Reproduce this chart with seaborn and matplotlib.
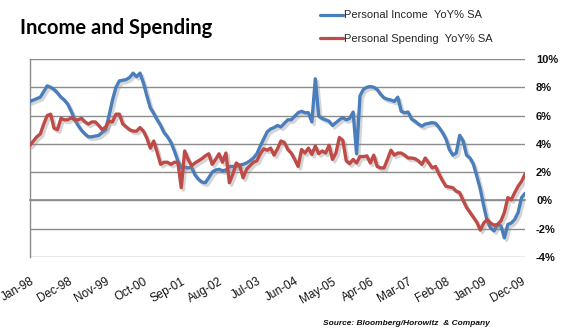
import numpy as np
import pandas as pd
import matplotlib
matplotlib.use("Agg")
import matplotlib.pyplot as plt
import matplotlib.patheffects as pe
from matplotlib.lines import Line2D
import seaborn as sns

# ---- data (monthly YoY %, Jan-98 .. Jan-10) ----
income = [7.0, 7.1, 7.2, 7.3, 7.7, 8.1, 8.0, 7.85, 7.6, 7.3,
          7.1, 6.8, 6.3, 5.7, 5.3, 4.95, 4.7, 4.5, 4.5, 4.55,
          4.6, 4.8, 5.0, 6.0, 7.1, 8.0, 8.45, 8.5, 8.55, 8.7,
          9.0, 8.75, 9.0, 8.3, 7.4, 6.55, 6.15, 5.7, 5.3, 4.8,
          4.5, 4.1, 3.5, 2.8, 2.3, 2.35, 2.3, 2.35, 1.8, 1.5,
          1.3, 1.25, 1.6, 2.0, 2.15, 2.2, 2.1, 2.15, 2.4, 2.4,
          2.4, 2.5, 2.55, 2.65, 2.8, 3.0, 3.3, 3.85, 4.35, 4.85,
          5.05, 5.15, 5.3, 5.2, 5.45, 5.7, 5.7, 5.95, 6.2, 6.3,
          6.2, 6.2, 5.55, 8.6, 5.95, 5.8, 5.7, 5.6, 5.3, 5.5,
          5.7, 5.85, 5.7, 5.8, 6.25, 3.3, 7.4, 7.85, 8.0, 8.05,
          8.0, 7.85, 7.5, 7.25, 7.15, 7.1, 7.0, 7.3, 6.3, 6.2,
          6.25, 5.75, 5.6, 5.4, 5.25, 5.4, 5.45, 5.5, 5.45, 5.15,
          4.8, 4.35, 3.6, 3.2, 3.35, 4.6, 4.2, 3.2, 3.0, 2.55,
          1.7, 0.8, -0.4, -1.45, -1.95, -2.15, -1.7, -1.8, -2.65, -1.7,
          -1.6, -1.35, -0.85, 0.2, 0.5]

spending = [3.9, 4.2, 4.5, 4.7, 5.4, 6.0, 6.1, 5.1, 5.0, 5.8,
            5.7, 5.7, 5.85, 5.7, 5.7, 5.8, 5.55, 5.4, 5.55, 5.55,
            5.3, 5.0, 5.2, 5.6, 5.55, 6.1, 6.1, 5.4, 5.2, 5.0,
            4.9, 4.9, 5.15, 4.9, 4.4, 3.7, 4.2, 3.4, 2.55, 2.7,
            2.7, 2.55, 2.7, 2.7, 0.9, 3.5, 2.9, 2.45, 2.65, 2.8,
            2.95, 3.15, 3.3, 2.55, 2.9, 3.3, 2.7, 3.35, 1.25, 1.85,
            2.65, 2.45, 1.6, 2.2, 2.45, 2.7, 2.8, 3.3, 3.65, 3.55,
            3.7, 3.2, 3.65, 4.2, 4.1, 3.6, 3.35, 2.9, 2.4, 3.6,
            3.35, 3.7, 3.25, 3.85, 3.3, 3.5, 3.35, 3.9, 2.9, 3.35,
            4.45, 4.25, 2.8, 2.6, 2.9, 2.65, 3.1, 3.1, 3.15, 2.65,
            3.2, 2.4, 2.3, 2.3, 2.9, 3.55, 3.2, 3.35, 3.35, 3.2,
            3.0, 3.0, 2.95, 2.8, 2.55, 3.0, 2.65, 2.3, 2.4, 1.85,
            1.4, 1.0, 0.95, 0.9, 0.65, 0.55, 0.0, -0.5, -0.85, -1.2,
            -1.55, -2.1, -1.6, -1.35, -1.6, -1.75, -1.7, -1.45, -0.85, 0.2,
            0.05, 0.55, 1.0, 1.35, 1.85]

tick_labels = ['Jan-98', 'Dec-98', 'Nov-99', 'Oct-00', 'Sep-01', 'Aug-02', 'Jul-03',
               'Jun-04', 'May-05', 'Apr-06', 'Mar-07', 'Feb-08', 'Jan-09', 'Dec-09']
y_ticks = [-4, -2, 0, 2, 4, 6, 8, 10]
series_names = ['Personal Income  YoY% SA', 'Personal Spending  YoY% SA']
colors = ['#4A7EBB', '#BE4B48']

month = np.arange(len(income))
df = pd.DataFrame({
    'month': np.concatenate([month, month]),
    'value': income + spending,
    'series': [series_names[0]] * len(income) + [series_names[1]] * len(spending),
})

sns.set_theme(style='white')
plt.rcParams['font.family'] = ['Liberation Sans', 'DejaVu Sans']

fig = plt.figure(figsize=(5.64, 3.36), dpi=100)
ax = fig.add_axes([30 / 564, 1 - 257 / 336, (525 - 30) / 564, (257 - 59) / 336])

sns.lineplot(data=df, x='month', y='value', hue='series', palette=colors,
             hue_order=series_names, ax=ax, linewidth=2.4, legend=False)
for ln in ax.lines:
    ln.set_path_effects([pe.SimpleLineShadow(offset=(1.6, -1.8), shadow_color='#888888',
                                             alpha=0.35, rho=1.0),
                         pe.Normal()])
    ln.set_solid_joinstyle('round')
    ln.set_zorder(3)

ax.set_xlim(0, len(income) - 1)
ax.set_ylim(-4, 10)

# y axis on the right
ax.yaxis.tick_right()
ax.set_yticks(y_ticks)
ax.set_yticklabels([f'{v}%' for v in y_ticks], fontweight='bold', fontsize=8)
ax.tick_params(axis='y', length=0, pad=8, colors='#111111')
ax.grid(axis='y', color='#8C8C8C', linewidth=1.0)
ax.grid(axis='x', visible=False)
ax.set_axisbelow(True)

# x axis crossing at 0 with labels at the bottom
ax.spines['bottom'].set_position(('data', 0))
ax.spines['bottom'].set_color('#8C8C8C')
ax.spines['left'].set_color('#8C8C8C')
ax.spines['left'].set_linewidth(1.0)
ax.spines['top'].set_visible(False)
ax.spines['right'].set_visible(False)
ax.set_xticks(np.arange(0, len(income), 11))
ax.set_xticklabels(tick_labels, rotation=30, ha='right', rotation_mode='anchor',
                   fontsize=8.5, color='#111111')
ax.tick_params(axis='x', direction='out', length=4, width=1, color='#8C8C8C', pad=50)
ax.set_xlabel('')
ax.set_ylabel('')

fig.text(20 / 564, 1 - 34 / 336, 'Income and Spending', fontsize=14.5, fontweight='bold',
         family=['Lato', 'DejaVu Sans'], color='black', ha='left', va='baseline')

handles = [Line2D([], [], color=c, linewidth=2.3) for c in colors]
fig.legend(handles, series_names, loc='upper left', bbox_to_anchor=(316 / 564, 1 - 6 / 336),
           frameon=False, fontsize=8, handlelength=2.0, handletextpad=0.15,
           labelspacing=1.25, borderaxespad=0)

fig.text(490 / 564, 1 - 325 / 336, 'Source: Bloomberg/Horowitz  & Company', fontsize=6,
         style='italic', fontweight='bold', ha='right', va='baseline', color='#111111')

fig.savefig('out.png', dpi=100, facecolor='white')
